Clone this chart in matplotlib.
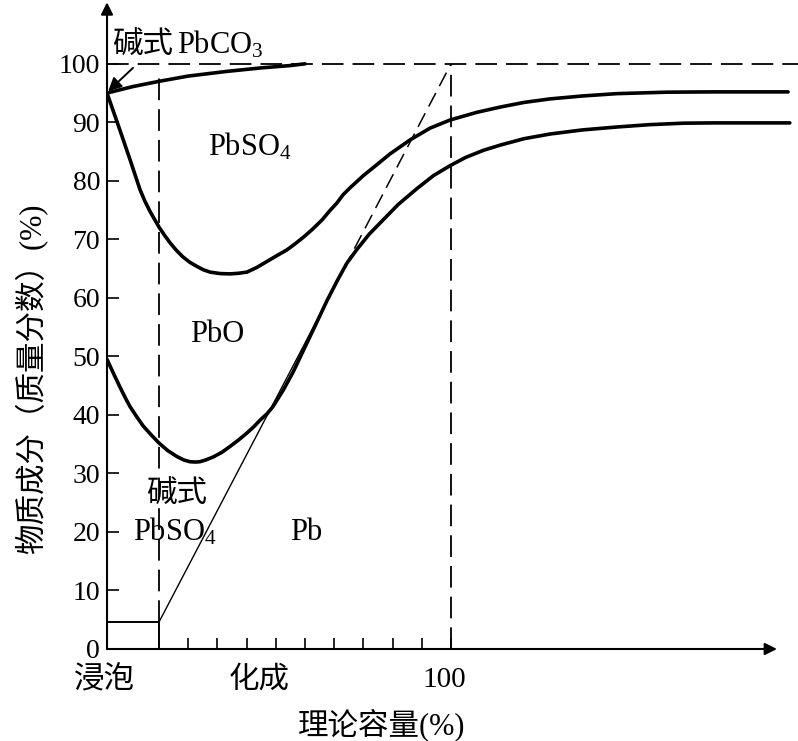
"""
Lead plate composition during soaking and formation.
Recreated phase-boundary chart, saved to out.png.
"""

import matplotlib
matplotlib.use('Agg')
import matplotlib.pyplot as plt

plt.rcParams['font.family'] = ['Liberation Serif', 'Noto Sans CJK SC']
plt.rcParams['mathtext.fontset'] = 'custom'
plt.rcParams['mathtext.rm'] = 'Liberation Serif'
plt.rcParams['mathtext.it'] = 'Liberation Serif:italic'
plt.rcParams['mathtext.bf'] = 'Liberation Serif:bold'

# x: theoretical capacity (%), soaking stage sits left of 0
X_START = -17.8

# basic PbCO3 / PbSO4 boundary
top_x = [-17.8, -9, 0, 10, 23.2, 35, 45, 50]
top_y = [95.0, 96.1, 97.0, 97.9, 98.7, 99.3, 99.7, 100]

# PbSO4 / PbO boundary
sulf_x = [-17.8, -13.4, -9.9, -6.5, -4.8, -3.1, -1.5, 0, 1.9, 3.8, 6.0, 8.2,
          10.5, 12.9, 15.2, 17.5, 21.0, 24.3, 27.2, 30.1, 33.5, 36.9, 40.3,
          43.8, 46.5, 49.3, 52.5, 55.8, 58.5, 60.9, 63.0, 65.4, 70.0, 74.7,
          79.1, 86.0, 92.8, 99.7, 108.8, 116.8, 125.0, 133.9, 145.0, 156.8,
          174.0, 190.0, 215.4]
sulf_y = [95.0, 88.7, 83.6, 78.5, 76.5, 74.8, 73.4, 72.1, 70.7, 69.4, 68.1, 67.0,
          66.1, 65.4, 64.8, 64.4, 64.15, 64.1, 64.2, 64.4, 65.2, 66.2, 67.2,
          68.2, 69.2, 70.3, 71.7, 73.3, 74.9, 76.2, 77.6, 78.8, 80.9, 82.8,
          84.6, 87.0, 89.0, 90.4, 91.7, 92.6, 93.4, 94.0, 94.5, 94.9,
          95.15, 95.2, 95.2]

# PbO / Pb boundary
oxide_x = [-17.8, -15.5, -13.4, -11.5, -9.9, -7.5, -5.4, -2.5, 0, 3.0, 6.1,
           8.5, 10.6, 12.5, 14.0, 16.0, 18.5, 21.5, 24.3, 27.2, 30.1, 32.5,
           34.6, 37.0, 39.0, 42.5, 45.9, 50.0, 54.1, 57.5, 61.0, 64.3, 67.8,
           72.0, 76.7, 82.0, 88.4, 94.0, 99.7, 105.0, 111.0, 116.8, 125.0,
           133.9, 145.0, 156.8, 168.0, 179.5, 190.0, 216.0]
oxide_y = [49.5, 47.0, 44.8, 42.9, 41.4, 39.6, 38.1, 36.5, 35.2, 33.9, 32.9,
           32.3, 32.0, 31.95, 32.0, 32.3, 32.8, 33.6, 34.6, 35.7, 36.9, 38.0,
           39.1, 40.2, 41.4, 44.2, 47.3, 51.6, 55.9, 59.5, 62.9, 65.9, 68.3,
           70.9, 73.3, 76.0, 78.7, 80.9, 82.6, 84.0, 85.2, 86.1, 87.2,
           88.0, 88.7, 89.2, 89.6, 89.85, 89.9, 89.9]

# basic PbSO4 during soaking, then linear Pb build-up to 100 %
soak_level = 4.6
pb_line_x = [0, 56, 100]
pb_line_y = [soak_level, 58.0, 100]

y_ticks = [0, 10, 20, 30, 40, 50, 60, 70, 80, 90, 100]
x_ticks = [10, 20, 30, 40, 50, 60, 70, 80, 90, 100]


def main():
    fig = plt.figure(figsize=(7.98, 7.41), dpi=100)
    ax = fig.add_axes([107 / 798, 92 / 741, 691 / 798, 649 / 741])
    ax.set_xlim(X_START, 218.8)
    ax.set_ylim(0, 110.9)
    for s in ax.spines.values():
        s.set_visible(False)

    # axes with arrow heads
    arrow = dict(arrowstyle='-|>', lw=1.5, color='k', mutation_scale=18,
                 shrinkA=0, shrinkB=0)
    ax.annotate('', xy=(211.6, 0), xytext=(X_START, 0), arrowprops=arrow,
                annotation_clip=False)
    ax.annotate('', xy=(X_START, 110.5), xytext=(X_START, 0), arrowprops=arrow,
                annotation_clip=False)

    ax.set_yticks(y_ticks)
    ax.set_xticks(x_ticks)
    ax.set_xticklabels([])
    ax.tick_params(axis='y', direction='in', length=8.4, width=1.2,
                   labelsize=20, pad=5)
    ax.tick_params(axis='x', direction='in', length=7.7, width=1.2)

    dash = (0, (12, 5))
    ax.plot([X_START, 218.8], [100, 100], 'k', lw=1.3, ls=dash, clip_on=False)
    ax.plot([0, 0], [soak_level, 98], 'k', lw=1.3, ls=dash)
    ax.plot([100, 100], [0, 100], 'k', lw=1.3, ls=dash)

    # soaking box
    ax.plot([X_START, 0, 0], [soak_level, soak_level, 0], 'k', lw=1.4)

    ax.plot(pb_line_x[:2], pb_line_y[:2], 'k', lw=1.0)
    ax.plot(pb_line_x[1:], pb_line_y[1:], 'k', lw=1.1, ls=(0, (10, 5)))

    ax.plot(top_x, top_y, 'k', lw=2.6, solid_capstyle='round')
    ax.plot(sulf_x, sulf_y, 'k', lw=2.6, solid_capstyle='round')
    ax.plot(oxide_x, oxide_y, 'k', lw=2.6, solid_capstyle='round')

    fs = 22
    ax.text(-16.1, 101.7, '碱式', fontsize=fs, va='baseline')
    ax.text(6.1, 101.7, 'PbCO$_3$', fontsize=fs, va='baseline')
    ax.annotate('', xy=(-17.4, 95.3), xytext=(-8.9, 99.3),
                arrowprops=dict(arrowstyle='-|>', lw=1.4, color='k',
                                mutation_scale=20, shrinkA=0, shrinkB=0))
    ax.text(16.9, 84.4, 'PbSO$_4$', fontsize=fs, va='baseline')
    ax.text(10.6, 52.5, 'PbO', fontsize=fs, va='baseline')
    ax.text(6.0, 26.3, '碱式', fontsize=fs, va='center', ha='center')
    ax.text(-8.8, 18.6, 'PbSO$_4$', fontsize=fs, va='baseline')
    ax.text(44.9, 18.6, 'Pb', fontsize=fs, va='baseline')

    # x axis stage labels
    ax.text(-18.5, -5.3, '浸泡', fontsize=fs, ha='center', va='center')
    ax.text(34.2, -5.3, '化成', fontsize=fs, ha='center', va='center')
    ax.text(97.6, -5.3, '100', fontsize=21, ha='center', va='center')

    fig.text(382 / 798, 1 - 725 / 741, '理论容量(%)', fontsize=fs,
             ha='center', va='center')
    fig.text(31 / 798, 1 - 379 / 741, '物质成分（质量分数）(%)', fontsize=fs,
             ha='center', va='center', rotation=90)

    fig.savefig('out.png', dpi=100)
    plt.close(fig)


if __name__ == '__main__':
    main()
